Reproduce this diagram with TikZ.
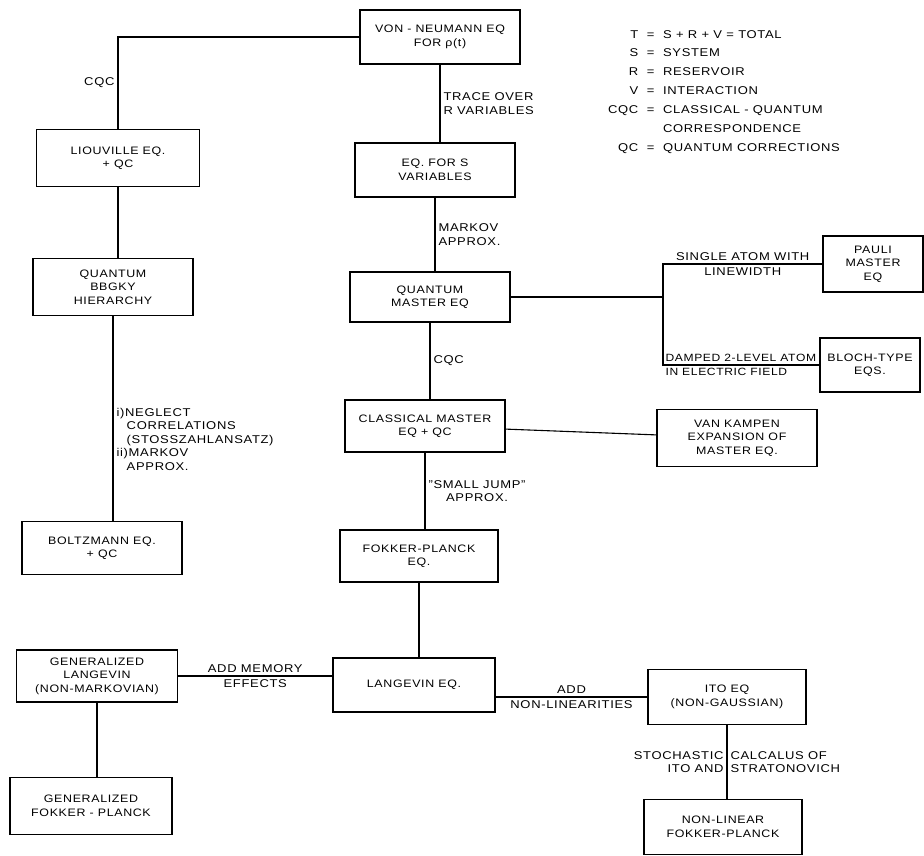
\documentclass[tikz,border=0pt]{standalone}
\usepackage{fontspec}
\setmainfont{Liberation Sans}[FakeStretch=1.15,LetterSpace=6]
\usepackage{tikz}

\begin{document}
\begin{tikzpicture}[x=1pt,y=-1pt,line width=1.1pt,
    every node/.style={font=\fontsize{11.3}{13.5}\selectfont,inner sep=3pt},
    box/.style={draw,font=\fontsize{10.8}{13.5}\selectfont,minimum width=160pt,minimum height=54pt,align=center}]
    \useasboundingbox (0,0) rectangle (924,855);
    \node[box] (vneq) at (440,37) {VON - NEUMANN EQ\\FOR ρ(t)};
    \node[box,minimum width=163pt,minimum height=57pt] (liou) at (118,158) {LIOUVILLE EQ.\\+ QC};
    \node[box] (eqs) at (435,170) {EQ. FOR S\\VARIABLES};
    \node[box,minimum height=57pt] (bbgky) at (113,287) {QUANTUM\\BBGKY\\HIERARCHY};
    \node[box,minimum height=50pt] (qmeq) at (430,297) {QUANTUM\\MASTER EQ};
    \node[box,minimum width=100pt,minimum height=56pt] (pauli) at (873,264) {PAULI\\MASTER\\EQ};
    \node[box,minimum width=100pt] (bloch) at (870,365) {BLOCH-TYPE\\EQS.};
    \node[box,minimum height=52pt] (cmeq) at (425,426) {CLASSICAL MASTER\\EQ + QC};
    \node[box,minimum height=57pt] (vkamp) at (737,438) {VAN KAMPEN\\EXPANSION OF\\MASTER EQ.};
    \node[box,minimum height=53pt] (boltz) at (102,548) {BOLTZMANN EQ.\\+ QC};
    \node[box,minimum width=158pt,minimum height=52pt] (fpeq) at (419,556) {FOKKER-PLANCK\\EQ.};
    \node[box,minimum width=161pt,minimum height=52pt] (glang) at (97,676) {GENERALIZED\\LANGEVIN\\(NON-MARKOVIAN)};
    \node[box,minimum width=162pt] (langv) at (414,685) {LANGEVIN EQ.};
    \node[box,minimum width=158pt,minimum height=55pt] (itoeq) at (727,697) {ITO EQ\\(NON-GAUSSIAN)};
    \node[box,minimum width=162pt,minimum height=57pt] (gfp) at (91,806) {GENERALIZED\\FOKKER - PLANCK};
    \node[box,minimum width=158pt,minimum height=55pt] (nlfp) at (723,827) {NON-LINEAR\\FOKKER-PLANCK};
    \node[align=left] (legend) at (724,91) {\renewcommand{\arraystretch}{1.4}%
    \begin{tabular}{@{}r@{\ \ }c@{\ \ }l@{}}
    T & = & S + R + V = TOTAL\\
    S & = & SYSTEM\\
    R & = & RESERVOIR\\
    V & = & INTERACTION\\
    CQC & = & CLASSICAL - QUANTUM\\
    & & CORRESPONDENCE\\
    QC & = & QUANTUM CORRECTIONS
    \end{tabular}};
    \coordinate (jn) at (663,297);
    \draw (vneq.west) -| node[pos=0.75,left]{CQC} (liou.north);
    \draw (vneq.south) -- node[right,align=left]{TRACE OVER\\R VARIABLES} (vneq.south |- eqs.north);
    \draw (eqs.south) -- node[right,align=left]{MARKOV\\APPROX.} (eqs.south |- qmeq.north);
    \draw (qmeq.south) -- node[right]{CQC} (qmeq.south |- cmeq.north);
    \draw (cmeq.south) -- node[right,align=center]{"SMALL JUMP"\\APPROX.} (cmeq.south |- fpeq.north);
    \draw (bbgky.south) -- node[pos=0.6,right,align=left]{i)NEGLECT\\\hspace*{0.9em}CORRELATIONS\\\hspace*{0.9em}(STOSSZAHLANSATZ)\\ii)MARKOV\\\hspace*{0.9em}APPROX.} (bbgky.south |- boltz.north);
    \foreach \a/\b in {liou/bbgky,fpeq/langv,glang/gfp}
    \draw (\a.south) -- (\a.south |- \b.north);
    \draw (qmeq.east) -- (jn);
    \draw (jn) |- node[pos=0.75,above]{SINGLE ATOM WITH} node[pos=0.75,below]{LINEWIDTH} (pauli.west);
    \draw (jn) |- node[pos=0.5,anchor=south west,inner xsep=2pt,font=\fontsize{10.5}{13.5}\selectfont]{DAMPED 2-LEVEL ATOM} node[pos=0.5,anchor=north west,inner xsep=2pt,font=\fontsize{10.5}{13.5}\selectfont]{IN ELECTRIC FIELD} (bloch.west);
    \draw (cmeq) -- (vkamp);
    \draw (glang.east) -- node[above]{ADD MEMORY} node[below]{EFFECTS} (glang.east -| langv.west);
    \draw (langv.east |- itoeq.west) -- node[above]{ADD} node[below]{NON-LINEARITIES} (itoeq.west);
    \draw (itoeq.south) -- node[left,align=right]{STOCHASTIC\\ITO AND} node[right,align=left]{CALCALUS OF\\STRATONOVICH} (itoeq.south |- nlfp.north);
\end{tikzpicture}
\end{document}
